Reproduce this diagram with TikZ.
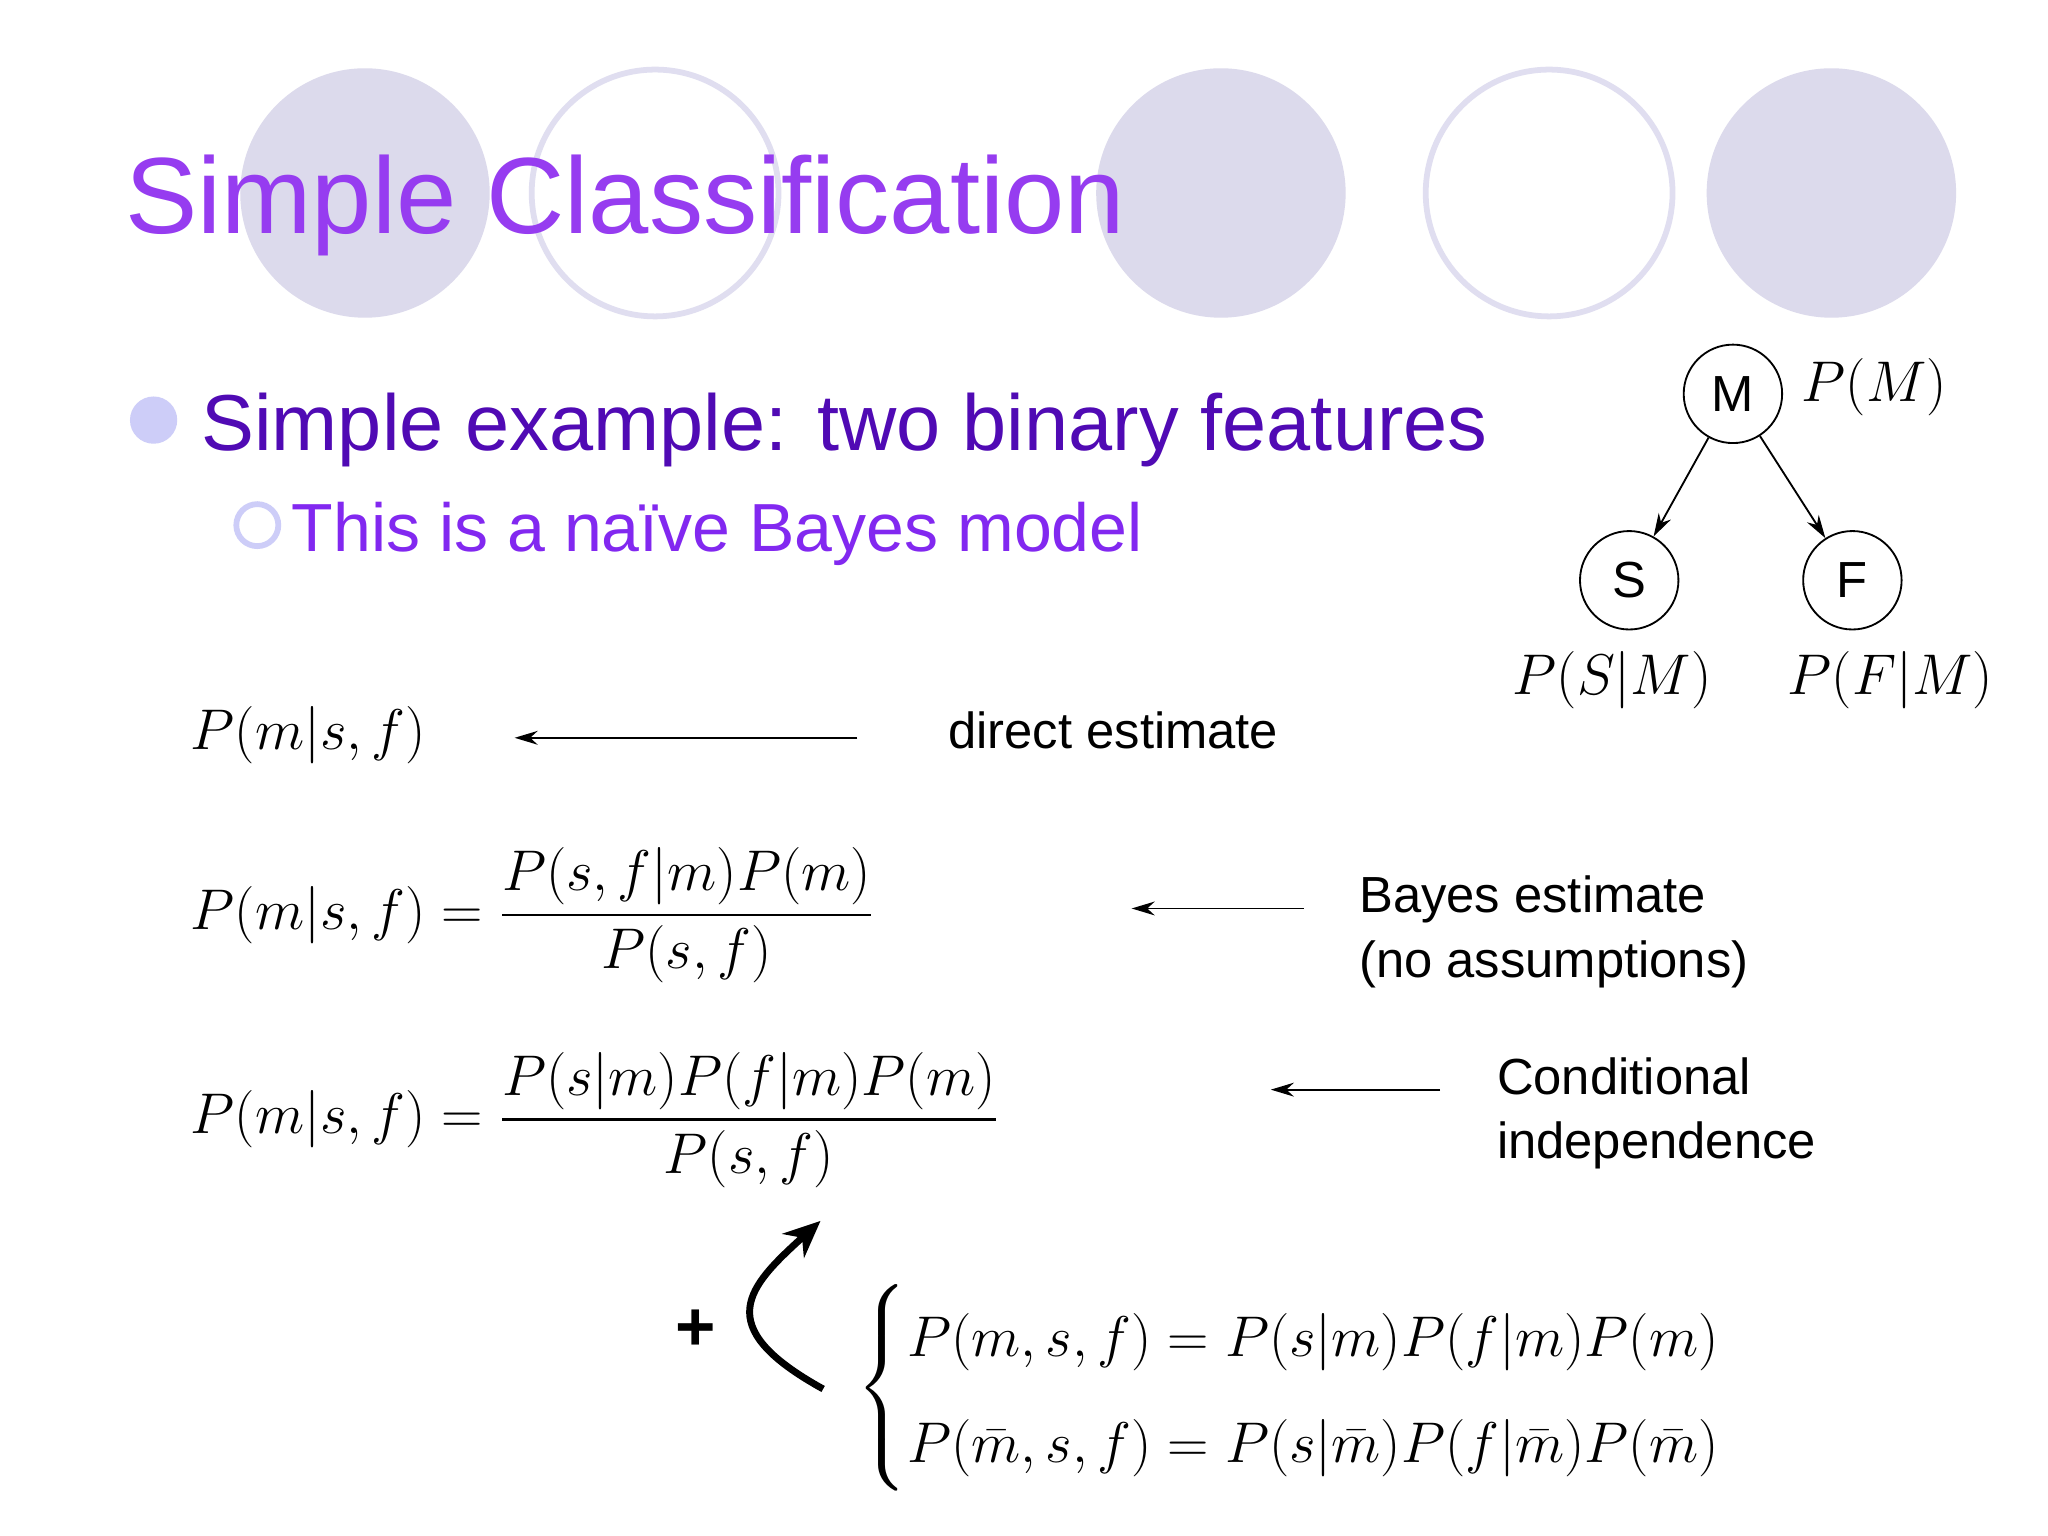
\documentclass[tikz,border=0pt]{standalone}
\usepackage{fontspec}
\setmainfont{Liberation Sans}
\usepackage{amsmath}
\usetikzlibrary{arrows.meta}
\definecolor{lav}{RGB}{220,218,236}
\definecolor{lavline}{RGB}{224,222,240}
\definecolor{titlec}{RGB}{150,60,240}
\definecolor{l1c}{RGB}{80,10,180}
\definecolor{l2c}{RGB}{130,40,240}
\definecolor{bul}{RGB}{205,205,248}
\tikzset{x=0.02cm,y=-0.02cm,
 gnode/.style={circle,draw,thick,minimum size=1.5cm,inner sep=0pt,font=\fontsize{22}{26}\selectfont},
 mth/.style={inner sep=0pt,font=\fontsize{40}{48}\selectfont},
 lbl/.style={inner sep=0pt,anchor=west,align=left,font=\fontsize{22}{28}\selectfont},
 arr/.style={-{Stealth[length=10pt,width=6pt]},thick}}
\begin{document}
\begin{tikzpicture}
\useasboundingbox (0,0) rectangle (1560,1170);
\fill[white] (0,0) rectangle (1560,1170);
\fill[lav] (278,147) circle (95);
\draw[lavline,line width=2.5pt] (499,147) circle (94);
\fill[lav] (930,147) circle (95);
\draw[lavline,line width=2.5pt] (1180,147) circle (94);
\fill[lav] (1395,147) circle (95);
\node[anchor=base west,inner sep=0pt,text=titlec,font=\fontsize{47}{56}\selectfont] (title) at (95,178) {Simple Classification};
\fill[bul] (117,320) circle (18);
\node[anchor=base west,inner sep=0pt,text=l1c,font=\fontsize{34.4}{42}\selectfont] (l1) at (153,343) {Simple example: two binary features};
\draw[bul,line width=2.5pt] (196,400) circle (16);
\node[anchor=base west,inner sep=0pt,text=l2c,font=\fontsize{29.5}{34}\selectfont] (l2) at (222,420) {This is a naïve Bayes model};
% graph
\node[gnode] (M) at (1320,300) {M};
\node[gnode] (S) at (1241,442) {S};
\node[gnode] (F) at (1411,442) {F};
\draw[arr] (M) -- (S);
\draw[arr] (M) -- (F);
\node[mth,anchor=west] (PM) at (1372,295) {$P(M)$};
\node[mth] (PS) at (1228,518) {$P(S|M)$};
\node[mth] (PF) at (1440,518) {$P(F|M)$};
% equations
\node[mth,anchor=west] (e1) at (145,560) {$P(m|s,f)$};
\coordinate (a1s) at (653,562); \coordinate (a1e) at (392,562);
\draw[arr] (a1s) -- (a1e);
\node[lbl] (t1) at (722,556) {direct estimate};
\node[mth,anchor=west] (e2) at (145,697) {$P(m|s,f)=\dfrac{P(s,f|m)P(m)}{P(s,f)}$};
\coordinate (a2s) at (993,692); \coordinate (a2e) at (862,692);
\draw[arr] (a2s) -- (a2e);
\node[lbl] (t2) at (1035,710) {Bayes estimate\\(no assumptions)};
\node[mth,anchor=west] (e3) at (145,853) {$P(m|s,f)=\dfrac{P(s|m)P(f|m)P(m)}{P(s,f)}$};
\coordinate (a3s) at (1097,830); \coordinate (a3e) at (968,830);
\draw[arr] (a3s) -- (a3e);
\node[lbl] (t3) at (1140,848) {Conditional\\independence};
\node[inner sep=0pt,font=\fontsize{30}{34}\selectfont\bfseries] (plus) at (530,1013) {+};
\coordinate (cs) at (627,1058); \coordinate (ce) at (625,930);
\draw[-{Stealth[length=16pt,width=14pt]},line width=3pt] (cs) .. controls (540,1010) and (570,980) .. (ce);
\node[inner sep=0pt,anchor=west,font=\fontsize{41}{48}\selectfont] (cases) at (652,1057) {$\left\{\begin{array}{@{}l@{}}P(m,s,f)=P(s|m)P(f|m)P(m)\\[-2pt] P(\bar m,s,f)=P(s|\bar m)P(f|\bar m)P(\bar m)\end{array}\right.$};
\end{tikzpicture}
\end{document}
